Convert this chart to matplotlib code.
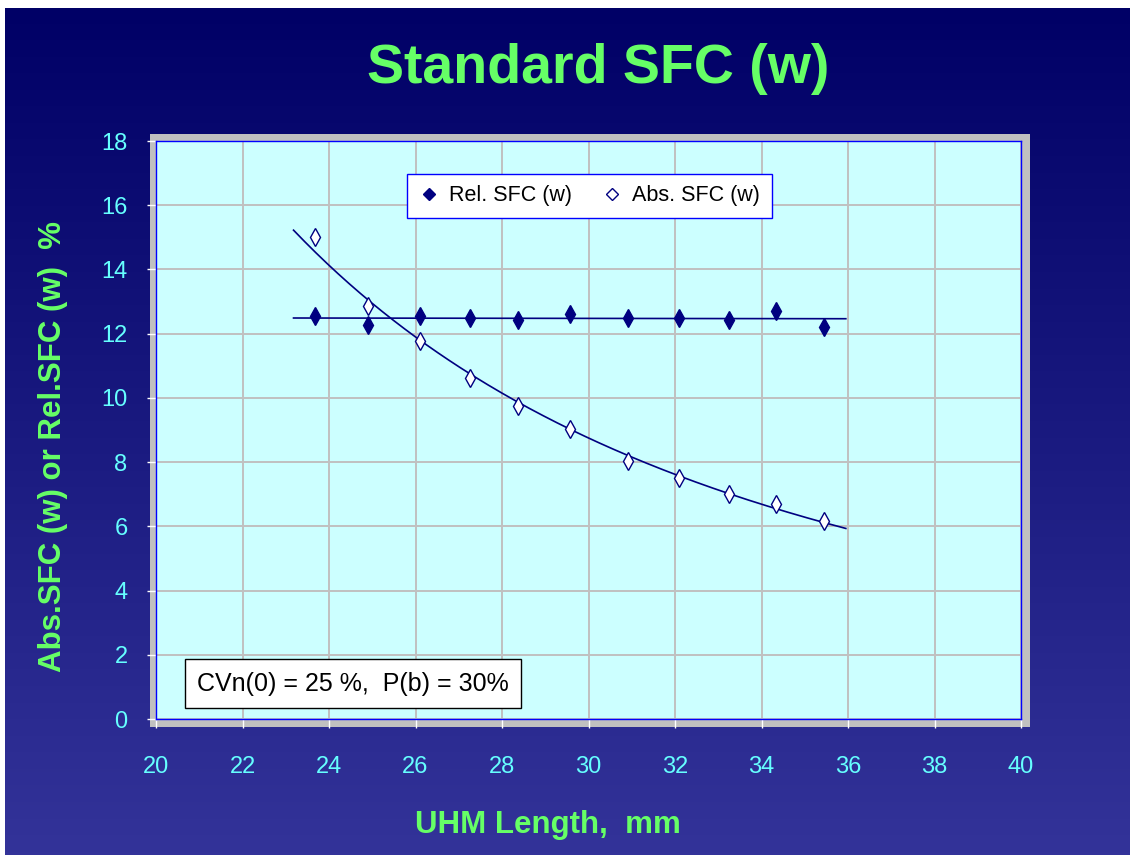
"""
Standard SFC (w) vs UHM length, slide-style chart with Excel-like trendlines.
Saves out.png.
"""
import numpy as np
import matplotlib
matplotlib.use("Agg")
import matplotlib.pyplot as plt
from matplotlib.patches import Rectangle
from matplotlib.colors import LinearSegmentedColormap

plt.rcParams["font.family"] = ["Liberation Sans", "DejaVu Sans"]

# values
uhm_length = [23.68, 24.91, 26.11, 27.27, 28.38, 29.58, 30.92, 32.10, 33.25, 34.34, 35.45]
rel_sfc = [12.55, 12.27, 12.55, 12.49, 12.43, 12.62, 12.49, 12.49, 12.43, 12.71, 12.21]
abs_sfc = [15.02, 12.87, 11.78, 10.62, 9.75, 9.03, 8.04, 7.51, 7.01, 6.70, 6.17]
x_ticks = list(range(20, 41, 2))
y_ticks = list(range(0, 19, 2))
note = "CVn(0) = 25 %,  P(b) = 30%"

W, H = 1130, 855
GREEN = "#66FF66"
CYAN = "#66FFFF"
NAVY = "#000080"


def px(x0, y0, x1, y1):
    """pixel box (top-left origin) -> figure fraction rect"""
    return [x0 / W, 1 - y1 / H, (x1 - x0) / W, (y1 - y0) / H]


fig = plt.figure(figsize=(W / 100, H / 100), dpi=100, facecolor="white")

# gradient background, with the thin white strip on top and left
bg = fig.add_axes(px(5, 8, W, H), zorder=-3)
grad = np.linspace(0, 1, 256).reshape(-1, 1)
cmap = LinearSegmentedColormap.from_list("bg", ["#000066", "#333399"])
bg.imshow(grad, aspect="auto", cmap=cmap, extent=[0, 1, 1, 0])
bg.set_axis_off()

# grey frame behind the plot area
fig.patches.append(Rectangle(px(150, 134, 1030, 727)[:2], 880 / W, 593 / H,
                             transform=fig.transFigure, facecolor="#C0C0C0",
                             edgecolor="none", zorder=-2))

ax = fig.add_axes(px(156, 141, 1021, 719))
ax.set_facecolor("#CCFFFF")
ax.set_xlim(20, 40)
ax.set_ylim(0, 18)
ax.set_xticks(x_ticks)
ax.set_yticks(y_ticks)
ax.grid(True, color="#C0C0C0", lw=1.4)
ax.set_axisbelow(True)
for s in ax.spines.values():
    s.set_color("#0000FF")
    s.set_linewidth(1.0)
ax.tick_params(axis="both", direction="out", length=6.5, width=1, color="white",
               labelcolor=CYAN, labelsize=17)
ax.tick_params(axis="x", pad=20)
ax.tick_params(axis="y", pad=14)

x = np.array(uhm_length)
xs = np.linspace(x.min() - 0.5, x.max() + 0.5, 200)  # forecast 0.5 both ways

# trendlines: linear for Rel, power for Abs
lin = np.polyfit(x, rel_sfc, 1)
ax.plot(xs, np.polyval(lin, xs), color=NAVY, lw=1.2, zorder=2)
pw = np.polyfit(np.log(x), np.log(abs_sfc), 1)
ax.plot(xs, np.exp(np.polyval(pw, np.log(xs))), color=NAVY, lw=1.2, zorder=2)

ax.plot(x, rel_sfc, ls="none", marker="d", ms=9, color=NAVY, mec=NAVY,
        label="Rel. SFC (w)", zorder=3)
ax.plot(x, abs_sfc, ls="none", marker="d", ms=9, mfc="white", mec=NAVY,
        mew=1.0, label="Abs. SFC (w)", zorder=3)

leg = ax.legend(loc="center", bbox_to_anchor=(0.5006, 0.905), ncol=2,
                fontsize=15.5, frameon=True, fancybox=False, framealpha=1,
                edgecolor="#0000FF", borderpad=0.55, handletextpad=0.4,
                columnspacing=1.4, handlelength=1.0, markerscale=1.0)
leg.get_frame().set_linewidth(1.0)
for h in leg.legend_handles:
    h.set_marker("D")
    h.set_markersize(6)

ax.text(0.2277, 0.0606, note, transform=ax.transAxes, ha="center", va="center",
        fontsize=18, color="black",
        bbox=dict(boxstyle="square,pad=0.5", facecolor="white",
                  edgecolor="black", lw=1.0))

fig.text(598 / W, 1 - 69 / H, "Standard SFC (w)", ha="center", va="center",
         fontsize=40, fontweight="bold", color=GREEN)
fig.text(548 / W, 1 - 825 / H, "UHM Length,  mm", ha="center", va="center",
         fontsize=22.5, fontweight="bold", color=GREEN)
fig.text(53 / W, 1 - 447 / H, "Abs.SFC (w) or Rel.SFC (w)  %", ha="center",
         va="center", rotation=90, fontsize=22.5, fontweight="bold", color=GREEN)

fig.savefig("out.png", dpi=100)
